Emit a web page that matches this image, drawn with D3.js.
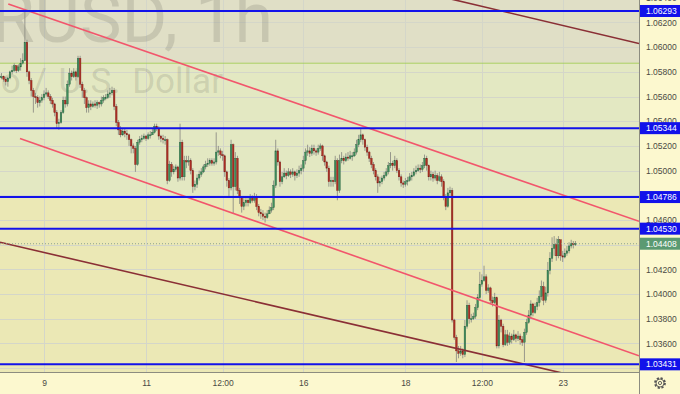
<!DOCTYPE html>
<html>
<head>
<meta charset="utf-8">
<script src="https://cdn.jsdelivr.net/npm/d3@7"></script>
<style>
  body { margin: 0; background: #fcf8cf; }
  svg { display: block; font-family: "Liberation Sans", Arial, sans-serif; }
</style>
</head>
<body>
<svg id="graph_01" width="680" height="394"></svg>
<script>
// Données (EURUSD, 1h)

const firstOpen = 1.0576;

const closes = [
  1.0576,1.0576,1.0574,1.0572,1.0575,1.0580,1.0581,1.0585,1.0581,1.0584,
  1.0587,1.0589,1.0604,1.0580,1.0573,1.0565,1.0560,1.0559,1.0555,1.0557,
  1.0559,1.0562,1.0563,1.0560,1.0557,1.0554,1.0547,1.0538,1.0539,1.0547,
  1.0557,1.0554,1.0570,1.0579,1.0576,1.0580,1.0576,1.0591,1.0570,1.0565,
  1.0559,1.0551,1.0554,1.0552,1.0554,1.0553,1.0555,1.0554,1.0557,1.0559,
  1.0559,1.0562,1.0563,1.0565,1.0552,1.0539,1.0533,1.0529,1.0532,1.0530,
  1.0529,1.0525,1.0520,1.0518,1.0505,1.0523,1.0525,1.0526,1.0528,1.0526,
  1.0529,1.0529,1.0531,1.0536,1.0534,1.0528,1.0526,1.0525,1.0525,1.0492,
  1.0505,1.0499,1.0501,1.0503,1.0494,1.0523,1.0495,1.0508,1.0507,1.0508,
  1.0500,1.0487,1.0489,1.0494,1.0497,1.0499,1.0503,1.0505,1.0506,1.0508,
  1.0506,1.0507,1.0515,1.0516,1.0513,1.0512,1.0499,1.0492,1.0486,1.0521,
  1.0487,1.0510,1.0484,1.0478,1.0471,1.0474,1.0476,1.0474,1.0478,1.0476,
  1.0479,1.0471,1.0466,1.0465,1.0463,1.0462,1.0465,1.0468,1.0470,1.0488,
  1.0516,1.0507,1.0491,1.0495,1.0498,1.0496,1.0499,1.0497,1.0499,1.0496,
  1.0498,1.0500,1.0502,1.0508,1.0515,1.0516,1.0514,1.0518,1.0516,1.0515,
  1.0518,1.0520,1.0512,1.0507,1.0502,1.0491,1.0492,1.0491,1.0508,1.0484,
  1.0508,1.0510,1.0508,1.0511,1.0510,1.0512,1.0512,1.0515,1.0521,1.0525,
  1.0529,1.0525,1.0519,1.0515,1.0510,1.0505,1.0500,1.0495,1.0490,1.0491,
  1.0494,1.0496,1.0499,1.0504,1.0506,1.0504,1.0508,1.0500,1.0495,1.0490,
  1.0489,1.0491,1.0492,1.0495,1.0496,1.0499,1.0500,1.0502,1.0501,1.0504,
  1.0510,1.0504,1.0495,1.0497,1.0494,1.0496,1.0492,1.0495,1.0491,1.0479,
  1.0471,1.0482,1.0484,1.0379,1.0365,1.0354,1.0352,1.0354,1.0351,1.0374,
  1.0391,1.0380,1.0380,1.0382,1.0389,1.0397,1.0408,1.0411,1.0414,1.0403,
  1.0405,1.0395,1.0393,1.0397,1.0358,1.0379,1.0374,1.0359,1.0367,1.0361,
  1.0366,1.0363,1.0367,1.0364,1.0366,1.0363,1.0361,1.0369,1.0377,1.0383,
  1.0392,1.0385,1.0390,1.0393,1.0398,1.0406,1.0395,1.0401,1.0419,1.0429,
  1.0437,1.0440,1.0431,1.0444,1.0431,1.0430,1.0433,1.0435,1.0439,1.0441,
  1.0440,1.04408
];

const highs = [
  1.0578,1.0579,1.0577,1.0576,1.0576,1.0581,1.0585,1.0587,1.0585,1.0586,
  1.0591,1.0595,1.0630,1.0606,1.0581,1.0575,1.0567,1.0563,1.0561,1.0560,
  1.0562,1.0565,1.0567,1.0565,1.0562,1.0559,1.0555,1.0549,1.0542,1.0549,
  1.0560,1.0560,1.0573,1.0583,1.0581,1.0583,1.0581,1.0593,1.0593,1.0572,
  1.0567,1.0560,1.0557,1.0557,1.0556,1.0557,1.0557,1.0556,1.0560,1.0561,
  1.0562,1.0565,1.0567,1.0568,1.0567,1.0554,1.0541,1.0536,1.0534,1.0534,
  1.0533,1.0530,1.0526,1.0522,1.0520,1.0525,1.0528,1.0529,1.0530,1.0529,
  1.0531,1.0532,1.0534,1.0538,1.0538,1.0536,1.0529,1.0529,1.0528,1.0526,
  1.0508,1.0507,1.0504,1.0505,1.0504,1.0538,1.0525,1.0512,1.0512,1.0512,
  1.0510,1.0502,1.0492,1.0497,1.0500,1.0502,1.0505,1.0508,1.0510,1.0510,
  1.0510,1.0510,1.0531,1.0520,1.0518,1.0516,1.0513,1.0500,1.0494,1.0525,
  1.0522,1.0515,1.0512,1.0486,1.0479,1.0478,1.0479,1.0478,1.0481,1.0480,
  1.0482,1.0481,1.0473,1.0469,1.0468,1.0466,1.0468,1.0471,1.0474,1.0492,
  1.0525,1.0518,1.0508,1.0499,1.0502,1.0500,1.0502,1.0501,1.0502,1.0500,
  1.0501,1.0504,1.0505,1.0512,1.0518,1.0521,1.0519,1.0521,1.0521,1.0518,
  1.0521,1.0522,1.0521,1.0513,1.0508,1.0504,1.0495,1.0495,1.0512,1.0510,
  1.0513,1.0515,1.0512,1.0514,1.0515,1.0516,1.0515,1.0518,1.0525,1.0529,
  1.0534,1.0530,1.0526,1.0521,1.0516,1.0512,1.0507,1.0502,1.0497,1.0495,
  1.0496,1.0499,1.0502,1.0507,1.0515,1.0508,1.0512,1.0510,1.0502,1.0497,
  1.0492,1.0494,1.0495,1.0498,1.0499,1.0502,1.0504,1.0505,1.0505,1.0507,
  1.0513,1.0512,1.0505,1.0500,1.0499,1.0500,1.0498,1.0499,1.0497,1.0493,
  1.0481,1.0486,1.0487,1.0486,1.0380,1.0367,1.0358,1.0358,1.0356,1.0379,
  1.0395,1.0393,1.0384,1.0385,1.0392,1.0400,1.0418,1.0416,1.0423,1.0416,
  1.0408,1.0406,1.0398,1.0401,1.0398,1.0383,1.0380,1.0376,1.0371,1.0371,
  1.0369,1.0368,1.0371,1.0368,1.0370,1.0368,1.0366,1.0372,1.0380,1.0387,
  1.0395,1.0393,1.0393,1.0397,1.0403,1.0411,1.0410,1.0406,1.0426,1.0434,
  1.0446,1.0447,1.0445,1.0447,1.0444,1.0435,1.0437,1.0439,1.0442,1.0444,
  1.0443,1.0443
];

const lows = [
  1.0573,1.0574,1.0572,1.0569,1.0568,1.0574,1.0578,1.0580,1.0579,1.0580,
  1.0581,1.0586,1.0589,1.0576,1.0570,1.0560,1.0547,1.0554,1.0551,1.0552,
  1.0555,1.0557,1.0560,1.0558,1.0554,1.0551,1.0544,1.0534,1.0533,1.0538,
  1.0546,1.0551,1.0552,1.0568,1.0573,1.0575,1.0573,1.0575,1.0567,1.0559,
  1.0554,1.0547,1.0547,1.0549,1.0551,1.0551,1.0550,1.0551,1.0552,1.0555,
  1.0557,1.0558,1.0559,1.0561,1.0549,1.0536,1.0529,1.0527,1.0528,1.0527,
  1.0525,1.0520,1.0514,1.0514,1.0499,1.0504,1.0521,1.0523,1.0525,1.0524,
  1.0525,1.0526,1.0529,1.0530,1.0532,1.0525,1.0523,1.0522,1.0521,1.0489,
  1.0491,1.0495,1.0497,1.0499,1.0491,1.0492,1.0492,1.0492,1.0502,1.0504,
  1.0497,1.0482,1.0484,1.0486,1.0492,1.0495,1.0498,1.0501,1.0503,1.0504,
  1.0504,1.0504,1.0505,1.0512,1.0510,1.0508,1.0495,1.0487,1.0478,1.0484,
  1.0465,1.0484,1.0481,1.0473,1.0466,1.0468,1.0471,1.0471,1.0473,1.0474,
  1.0474,1.0468,1.0463,1.0461,1.0460,1.0458,1.0461,1.0465,1.0466,1.0468,
  1.0486,1.0504,1.0487,1.0489,1.0494,1.0493,1.0495,1.0494,1.0495,1.0492,
  1.0494,1.0495,1.0497,1.0499,1.0505,1.0512,1.0511,1.0512,1.0513,1.0512,
  1.0513,1.0516,1.0508,1.0504,1.0499,1.0487,1.0487,1.0487,1.0489,1.0476,
  1.0482,1.0506,1.0505,1.0507,1.0508,1.0509,1.0508,1.0511,1.0513,1.0519,
  1.0523,1.0521,1.0516,1.0512,1.0507,1.0502,1.0497,1.0492,1.0482,1.0487,
  1.0489,1.0492,1.0495,1.0497,1.0502,1.0500,1.0502,1.0498,1.0492,1.0487,
  1.0486,1.0487,1.0488,1.0491,1.0492,1.0495,1.0497,1.0499,1.0498,1.0499,
  1.0502,1.0500,1.0492,1.0492,1.0491,1.0492,1.0489,1.0491,1.0487,1.0476,
  1.0468,1.0470,1.0479,1.0377,1.0363,1.0345,1.0348,1.0350,1.0348,1.0349,
  1.0372,1.0376,1.0377,1.0379,1.0380,1.0387,1.0395,1.0406,1.0410,1.0400,
  1.0401,1.0392,1.0390,1.0392,1.0356,1.0356,1.0369,1.0357,1.0358,1.0358,
  1.0359,1.0360,1.0362,1.0361,1.0362,1.0359,1.0358,1.0345,1.0367,1.0376,
  1.0380,1.0382,1.0384,1.0387,1.0390,1.0395,1.0391,1.0393,1.0398,1.0416,
  1.0426,1.0431,1.0427,1.0429,1.0427,1.0426,1.0429,1.0431,1.0433,1.0437,
  1.0437,1.0439
];

// Axe du temps : index de la bougie et libellé
const tickBars = [21, 69, 105, 143, 191, 227, 265];
const tickLabels = ['9', '11', '12:00', '16', '18', '12:00', '23'];

// Graduations de l'axe des prix (celles cachées par les étiquettes sont omises)
const priceTicks = [1.036, 1.038, 1.040, 1.042, 1.046, 1.050, 1.052, 1.054,
                    1.056, 1.058, 1.060, 1.062, 1.064];
const gridTicks = [1.034, 1.036, 1.038, 1.040, 1.042, 1.044, 1.046, 1.048, 1.050,
                   1.052, 1.054, 1.056, 1.058, 1.060, 1.062];

// Niveaux horizontaux tracés (bleu) et dernier cours
const levels = [1.06293, 1.05344, 1.04786, 1.04530, 1.03431];
const lastPrice = 1.04408;
const greenLevel = 1.0587;

// Droites de tendance : [index, prix] -> [index, prix]
const redLines = [
  [[4.2, 1.0635], [300.9, 1.0459]],
  [[9.7, 1.0526], [300.9, 1.0350]]
];
const brownLines = [
  [[205, 1.0642], [300.9, 1.0603]],
  [[0.3, 1.0442], [280, 1.0330]]
];

//---------------------------------------------------------------------------------------

const width = 680;
const height = 394;
const plotW = 639;
const plotH = 372;

const svg = d3.select('#graph_01');

const x = d3.scaleLinear().domain([0.3, 300.9]).range([0, plotW]);
const y = d3.scaleLinear().domain([1.03369, 1.06382]).range([plotH, 0]);

const bars = closes.map((c, i) => ({
  i: i,
  o: i === 0 ? firstOpen : closes[i - 1],
  h: highs[i],
  l: lows[i],
  c: c
}));

svg.append('defs')
  .append('clipPath')
  .attr('id', 'plot-clip')
  .append('rect')
  .attr('width', plotW)
  .attr('height', plotH);

//---------------------------------------------------------------------------------------

// Fonds

svg.append('rect')
  .attr('width', width)
  .attr('height', height)
  .attr('fill', '#fcf8cf');

const zones = [
  { top: y.domain()[1], bottom: greenLevel, color: '#e0dfc6' },
  { top: greenLevel, bottom: levels[2], color: '#e3e8c2' },
  { top: levels[2], bottom: y.domain()[0], color: '#ebe8b5' }
];

svg.append('g')
  .selectAll('rect')
  .data(zones)
  .join('rect')
  .attr('x', 0)
  .attr('width', plotW)
  .attr('y', d => y(d.top))
  .attr('height', d => y(d.bottom) - y(d.top))
  .attr('fill', d => d.color);

// Grille

const plot = svg.append('g').attr('clip-path', 'url(#plot-clip)');

plot.append('g')
  .selectAll('line')
  .data(gridTicks)
  .join('line')
  .attr('x1', 0)
  .attr('x2', plotW)
  .attr('y1', d => Math.round(y(d)) + 0.5)
  .attr('y2', d => Math.round(y(d)) + 0.5)
  .attr('stroke', '#d4d6c9')
  .attr('stroke-width', 1);

plot.append('g')
  .selectAll('line')
  .data(tickBars)
  .join('line')
  .attr('x1', d => Math.round(x(d)) + 0.5)
  .attr('x2', d => Math.round(x(d)) + 0.5)
  .attr('y1', 0)
  .attr('y2', plotH)
  .attr('stroke', '#d4d6c9')
  .attr('stroke-width', 1);

// Filigrane

plot.append('text')
  .attr('x', 273)
  .attr('y', 42)
  .attr('text-anchor', 'end')
  .attr('font-family', 'Roboto, sans-serif')
  .attr('font-size', 70)
  .attr('fill', 'rgba(90,90,80,0.18)')
  .text('EURUSD, 1h');

plot.append('text')
  .attr('x', 223)
  .attr('y', 93)
  .attr('text-anchor', 'end')
  .attr('font-family', 'Roboto, sans-serif')
  .attr('font-size', 35)
  .attr('word-spacing', 3)
  .attr('fill', 'rgba(90,90,80,0.18)')
  .text('Euro / U.S. Dollar');

plot.append('line')
  .attr('x1', 0)
  .attr('x2', plotW)
  .attr('y1', y(greenLevel))
  .attr('y2', y(greenLevel))
  .attr('stroke', '#a9cf62')
  .attr('stroke-width', 1);

//---------------------------------------------------------------------------------------

// Bougies

const bw = 1.6;

const candles = plot.append('g')
  .selectAll('g')
  .data(bars)
  .join('g');

candles.append('line')
  .attr('x1', d => x(d.i))
  .attr('x2', d => x(d.i))
  .attr('y1', d => y(d.h))
  .attr('y2', d => y(d.l))
  .attr('stroke', '#8f8f86')
  .attr('stroke-width', 0.9);

candles.append('rect')
  .attr('x', d => x(d.i) - bw / 2)
  .attr('width', bw)
  .attr('y', d => y(Math.max(d.o, d.c)))
  .attr('height', d => Math.max(1, Math.abs(y(d.o) - y(d.c))))
  .attr('fill', d => d.c >= d.o ? '#3f8d5c' : '#ad2f24')
  .attr('stroke', d => d.c >= d.o ? '#2b6442' : '#7d1f18')
  .attr('stroke-width', 0.4);

//---------------------------------------------------------------------------------------

// Droites de tendance

const lineGen = d3.line().x(d => x(d[0])).y(d => y(d[1]));

plot.append('g')
  .selectAll('path')
  .data(brownLines)
  .join('path')
  .attr('d', lineGen)
  .attr('fill', 'none')
  .attr('stroke', '#8a2f35')
  .attr('stroke-width', 1.6);

plot.append('g')
  .selectAll('path')
  .data(redLines)
  .join('path')
  .attr('d', lineGen)
  .attr('fill', 'none')
  .attr('stroke', '#f2566c')
  .attr('stroke-width', 1.6);

// Dernier cours (pointillés)
plot.append('line')
  .attr('x1', 0)
  .attr('x2', plotW)
  .attr('y1', y(lastPrice))
  .attr('y2', y(lastPrice))
  .attr('stroke', '#8fa38f')
  .attr('stroke-width', 1)
  .attr('stroke-dasharray', '1,2');

// Niveaux horizontaux
plot.append('g')
  .selectAll('line')
  .data(levels)
  .join('line')
  .attr('x1', 0)
  .attr('x2', plotW)
  .attr('y1', d => y(d))
  .attr('y2', d => y(d))
  .attr('stroke', '#1212ea')
  .attr('stroke-width', 2);

//---------------------------------------------------------------------------------------

// Axes

const axisY = svg.append('g')
  .attr('transform', `translate(${plotW},0)`)
  .call(d3.axisRight(y)
    .tickValues(priceTicks)
    .tickFormat(d3.format('.5f'))
    .tickSize(0)
    .tickPadding(7));

axisY.select('.domain').remove();
axisY.selectAll('text')
  .attr('font-size', 8.5)
  .attr('font-family', '"Liberation Sans", Arial, sans-serif')
  .attr('fill', '#4a4a44');

const axisX = svg.append('g')
  .attr('transform', `translate(0,${plotH})`)
  .call(d3.axisBottom(x)
    .tickValues(tickBars)
    .tickFormat((d, i) => tickLabels[i])
    .tickSize(0)
    .tickPadding(8));

axisX.select('.domain').remove();
axisX.selectAll('text')
  .attr('font-size', 8.5)
  .attr('font-family', '"Liberation Sans", Arial, sans-serif')
  .attr('fill', '#4a4a44');

svg.append('line')
  .attr('x1', plotW + 0.5).attr('x2', plotW + 0.5)
  .attr('y1', 0).attr('y2', height)
  .attr('stroke', '#8c8c80');

svg.append('line')
  .attr('x1', 0).attr('x2', plotW)
  .attr('y1', plotH + 0.5).attr('y2', plotH + 0.5)
  .attr('stroke', '#8c8c80');

// Étiquettes des niveaux sur l'axe des prix

const tags = levels.map(d => ({ v: d, color: '#1212ea' }))
  .concat([{ v: lastPrice, color: '#5b9a72' }]);

const tagG = svg.append('g')
  .selectAll('g')
  .data(tags)
  .join('g')
  .attr('transform', d => `translate(${plotW + 1},${y(d.v)})`);

tagG.append('rect')
  .attr('x', 0)
  .attr('y', -6)
  .attr('width', width - plotW - 1)
  .attr('height', 12)
  .attr('fill', d => d.color);

tagG.append('text')
  .attr('x', 6)
  .attr('dy', '0.35em')
  .attr('font-size', 8.5)
  .attr('fill', '#ffffff')
  .text(d => d3.format('.5f')(d.v));

// Icône réglages

const gear = svg.append('g')
  .attr('transform', `translate(660,${plotH + 11})`);

gear.append('circle')
  .attr('r', 4.8)
  .attr('fill', 'none')
  .attr('stroke', '#555')
  .attr('stroke-width', 2.2)
  .attr('stroke-dasharray', '2.1,1.67');

gear.append('circle')
  .attr('r', 4)
  .attr('fill', '#fcf8cf')
  .attr('stroke', '#555')
  .attr('stroke-width', 0.9);

gear.append('circle')
  .attr('r', 1.6)
  .attr('fill', 'none')
  .attr('stroke', '#555')
  .attr('stroke-width', 0.9);
</script>
</body>
</html>
